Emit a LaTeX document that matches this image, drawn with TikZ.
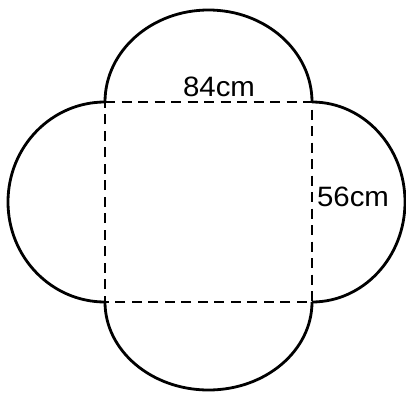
\documentclass[tikz,border=0pt]{standalone}
\usepackage{fontspec}
\setmainfont{Liberation Sans}
\begin{document}
\begin{tikzpicture}[x=1pt,y=-1pt,
  solidline/.style={line width=2.8pt},
  dashline/.style={line width=2.8pt, dash pattern=on 10pt off 6.5pt},
  lbl/.style={font=\fontsize{28}{28}\selectfont, inner sep=0pt, xscale=1.05}]
\useasboundingbox (0,0) rectangle (406,393);
\coordinate (A) at (105,102);
\coordinate (B) at (312,102);
\coordinate (C) at (312,302);
\coordinate (D) at (105,302);
\draw[dashline] (A) -- (B) -- (C) -- (D) -- cycle;
\draw[solidline] (A) arc[start angle=180, end angle=360, x radius=103.5, y radius=92];
\draw[solidline] (A) arc[start angle=270, end angle=90, x radius=97, y radius=100];
\draw[solidline] (B) arc[start angle=270, end angle=450, x radius=93, y radius=100];
\draw[solidline] (D) arc[start angle=180, end angle=0, x radius=103.5, y radius=88];
\node[lbl] (top) at (219,87) {84cm};
\node[lbl] (side) at (353,197) {56cm};
\end{tikzpicture}
\end{document}
